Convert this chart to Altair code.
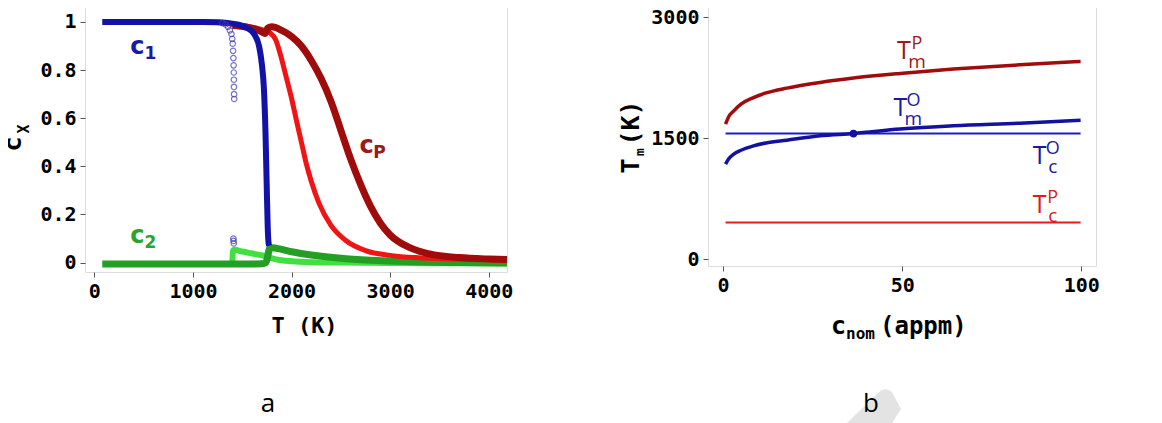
import altair as alt
import pandas as pd

# ---------------- Panel a data ----------------
c1_T = [80, 400, 800, 1100, 1250, 1350, 1450, 1550, 1620, 1670, 1700, 1720, 1735, 1748, 1758, 1765, 1772]
c1_v = [1.0, 1.0, 1.0, 1.0, 0.999, 0.996, 0.99, 0.975, 0.95, 0.9, 0.82, 0.72, 0.55, 0.32, 0.15, 0.09, 0.07]

c1b_T = [1300, 1330, 1355, 1375, 1390, 1398, 1403, 1407, 1410, 1412, 1414, 1415, 1416, 1417, 1418, 1410, 1412, 1414]
c1b_v = [0.995, 0.99, 0.98, 0.965, 0.95, 0.93, 0.91, 0.88, 0.85, 0.82, 0.79, 0.76, 0.73, 0.7, 0.68, 0.1, 0.09, 0.08]

red_T = [1150, 1300, 1450, 1600, 1700, 1780, 1840, 1890, 1940, 1996, 2050, 2100, 2150, 2199,
         2280, 2400, 2550, 2750, 3000, 3400, 3800, 4185]
red_v = [1.0, 0.996, 0.988, 0.978, 0.968, 0.955, 0.925, 0.86, 0.78, 0.69, 0.59, 0.5, 0.41, 0.339,
         0.245, 0.155, 0.092, 0.05, 0.03, 0.018, 0.013, 0.011]

dred_T = [1400, 1550, 1650, 1700, 1730, 1760, 1800, 1900, 2000, 2100, 2200, 2300, 2400, 2500,
          2600, 2700, 2800, 2900, 3000, 3200, 3400, 3700, 4000, 4185]
dred_v = [0.985, 0.978, 0.968, 0.958, 0.952, 0.975, 0.98, 0.965, 0.94, 0.9, 0.84, 0.765, 0.67, 0.55,
          0.43, 0.325, 0.235, 0.165, 0.115, 0.062, 0.036, 0.021, 0.015, 0.013]

c2_T = [80, 500, 1000, 1500, 1700, 1740, 1760, 1775, 1800, 1900, 2000, 2200, 2500, 2800, 3200, 3700, 4185]
c2_v = [-0.006, -0.006, -0.006, -0.006, -0.005, 0.0, 0.03, 0.058, 0.062, 0.055, 0.045, 0.032, 0.018,
        0.01, 0.004, 0.0, -0.002]

lg_T = [1400, 1405, 1420, 1500, 1600, 1700, 1760, 1800, 1900, 2000, 2200, 2500, 3000, 3500, 4185]
lg_v = [0.005, 0.05, 0.053, 0.046, 0.038, 0.03, 0.026, 0.018, 0.01, 0.006, 0.002, 0.0, -0.002, -0.003, -0.004]

a_labels = [
    {"x": 436, "y": 0.866, "main": "c", "sub": "1", "color": "#1a1aa0"},
    {"x": 436, "y": 0.082, "main": "c", "sub": "2", "color": "#2aa52a"},
    {"x": 2760, "y": 0.455, "main": "c", "sub": "P", "color": "#a01818"},
]

# ---------------- Panel b data ----------------
cnom = [0.7, 1.5, 3, 5, 8.5, 12, 17.8, 27.1, 36.4, 49.4, 64.3, 82.9, 99.8]
TmP = [1674, 1760, 1838, 1920, 2003, 2060, 2120, 2190, 2244, 2301, 2355, 2409, 2450]
TmO = [1178, 1240, 1302, 1350, 1405, 1440, 1475, 1529, 1557, 1612, 1653, 1686, 1723]
Tc_x = [0.7, 99.8]
TcO = [1557, 1557]
TcP = [455, 455]
dot_x = [36.4]
dot_y = [1557]

b_labels = [
    {"x": 50.5, "y": 2483, "sup": "P", "sub": "m", "color": "#a01818"},
    {"x": 49.5, "y": 1776, "sup": "O", "sub": "m", "color": "#1a1aa0"},
    {"x": 88.4, "y": 1181, "sup": "O", "sub": "c", "color": "#1a1aa0"},
    {"x": 88.4, "y": 574, "sup": "P", "sub": "c", "color": "#d42020"},
]

MONO = "DejaVu Sans Mono"
SANS = "Open Sans"


def axis(values, fmt, title=None, title_pad=10, title_x=None):
    kw = dict(values=values, format=fmt, grid=False,
              labelFont=MONO, labelFontWeight="bold", labelFontSize=20, labelColor="black",
              tickColor="#555", tickSize=5, domain=False, labelPadding=4)
    if title is None:
        kw["title"] = None
    else:
        kw.update(title=title, titleFont=MONO, titleFontWeight="bold", titleFontSize=22,
                  titleColor="black", titlePadding=title_pad)
        if title_x is not None:
            kw["titleX"] = title_x
    return alt.Axis(**kw)


def txt(s, x, y, size, color="black", font=MONO, weight="bold", angle=0, align="center",
        baseline="alphabetic"):
    kw = dict(font=font, fontSize=size, fontWeight=weight, color=color, align=align,
              baseline=baseline)
    if angle:
        kw["angle"] = angle
    return alt.Chart(pd.DataFrame({"t": [s]})).mark_text(**kw).encode(
        x=alt.value(x), y=alt.value(y), text="t:N")


def watermark(x, y):
    path = ("M -0.97 0.63 L 0.27 -0.57 Q 0.47 -0.75 0.7 -0.57 L 1 0.0 L 0.6 0.63 Z")
    return alt.Chart(pd.DataFrame({"t": [0]})).mark_point(
        shape=path, filled=True, color="#e3e3e3", size=3600, opacity=1, strokeWidth=0).encode(
        x=alt.value(x), y=alt.value(y))


# ---------------- Panel a ----------------
xa = alt.X("T:Q", scale=alt.Scale(domain=[-95, 4185], nice=False, zero=False),
           axis=axis([0, 1000, 2000, 3000, 4000], "d", "T (K)", 14, 219))
ya = alt.Y("v:Q", scale=alt.Scale(domain=[-0.039, 1.083], nice=False, zero=False),
           axis=axis([0, 0.2, 0.4, 0.6, 0.8, 1.0], "~g"))


def line_a(T, v, color, width):
    df = pd.DataFrame({"T": T, "v": v, "i": range(len(T))})
    return alt.Chart(df).mark_line(color=color, strokeWidth=width, interpolate="monotone").encode(
        x=xa, y=ya, order="i:Q")


lg = line_a(lg_T, lg_v, "#3fe03f", 6)
c2 = line_a(c2_T, c2_v, "#23a023", 7)
red = line_a(red_T, red_v, "#f01414", 5)
dred = line_a(dred_T, dred_v, "#a00c0c", 7)
c1 = line_a(c1_T, c1_v, "#1212a8", 6)
c1b = alt.Chart(pd.DataFrame({"T": c1b_T, "v": c1b_v})).mark_point(
    shape="circle", filled=False, color="#3a3ab4", size=30, strokeWidth=1.2).encode(x=xa, y=ya)

adf = pd.DataFrame(a_labels)
a_main = alt.Chart(adf).mark_text(font="DejaVu Sans", fontWeight="bold", fontSize=24,
                                  align="center", baseline="alphabetic").encode(
    x="x:Q", y="y:Q", text="main:N", color=alt.Color("color:N", scale=None))
a_sub = alt.Chart(adf).mark_text(font="DejaVu Sans", fontWeight="bold", fontSize=17,
                                 align="center", baseline="alphabetic", dx=13, dy=5).encode(
    x="x:Q", y="y:Q", text="sub:N", color=alt.Color("color:N", scale=None))

a_ytitle_c = txt("c", -64, 142, 25, angle=270)
a_ytitle_x = txt("X", -56, 127, 15, angle=270)
a_tag = txt("a", 183, 402, 26, font=SANS, weight="normal", baseline="middle")

panel_a = alt.layer(lg, c2, red, dred, c1, c1b, a_main, a_sub,
                    a_ytitle_c, a_ytitle_x, a_tag).properties(width=422, height=270)

# ---------------- Panel b ----------------
xb = alt.X("x:Q", scale=alt.Scale(domain=[-4.2, 104.1], nice=False, zero=False),
           axis=axis([0, 50, 100], "d"))
yb = alt.Y("y:Q", scale=alt.Scale(domain=[-83, 3186], nice=False, zero=False),
           axis=axis([0, 1500, 3000], "d"))


def line_b(x, y, color, width):
    df = pd.DataFrame({"x": x, "y": y})
    return alt.Chart(df).mark_line(color=color, strokeWidth=width, interpolate="monotone").encode(x=xb, y=yb)


tcp = line_b(Tc_x, TcP, "#e01c1c", 2)
tco = line_b(Tc_x, TcO, "#1c1cc8", 2)
tmp_ = line_b(cnom, TmP, "#a00c0c", 3.5)
tmo = line_b(cnom, TmO, "#12129e", 3.5)
dot = alt.Chart(pd.DataFrame({"x": dot_x, "y": dot_y})).mark_point(
    filled=True, color="#12129e", size=60, opacity=1).encode(x=xb, y=yb)

bdf = pd.DataFrame(b_labels)
b_main = alt.Chart(bdf).mark_text(font=SANS, fontSize=25, text="T",
                                  align="center", baseline="alphabetic").encode(
    x="x:Q", y="y:Q", color=alt.Color("color:N", scale=None))
b_sup = alt.Chart(bdf).mark_text(font=SANS, fontSize=18, align="center", baseline="alphabetic",
                                 dx=13, dy=-10).encode(
    x="x:Q", y="y:Q", text="sup:N", color=alt.Color("color:N", scale=None))
b_sub = alt.Chart(bdf).mark_text(font=SANS, fontSize=19, align="center", baseline="alphabetic",
                                 dx=13, dy=9).encode(
    x="x:Q", y="y:Q", text="sub:N", color=alt.Color("color:N", scale=None))

b_ytitle_T = txt("T", -69, 164, 25, angle=270)
b_ytitle_m = txt("m", -64, 150, 13, angle=270)
b_ytitle_K = txt("(K)", -69, 121, 25, angle=270)
b_xtitle_c = txt("c", 123, 332, 25, align="left")
b_xtitle_n = txt("nom", 138, 337, 16, align="left")
b_xtitle_a = txt("(appm)", 172, 332, 24, align="left")
b_mark = watermark(163, 407)
b_tag = txt("b", 163, 402, 26, font=SANS, weight="normal", baseline="middle")

panel_b = alt.layer(tcp, tco, tmp_, tmo, dot, b_main, b_sup, b_sub,
                    b_ytitle_T, b_ytitle_m, b_ytitle_K,
                    b_xtitle_c, b_xtitle_n, b_xtitle_a, b_mark, b_tag).properties(width=388, height=264)

chart = alt.hconcat(panel_a, panel_b, spacing=96).properties(
    padding={"left": -8, "top": -7, "right": 0, "bottom": 0}
).configure_view(stroke="#555", strokeWidth=1).configure(background="white")

chart.save("out.html", embed_options={"renderer": "svg", "actions": False})
